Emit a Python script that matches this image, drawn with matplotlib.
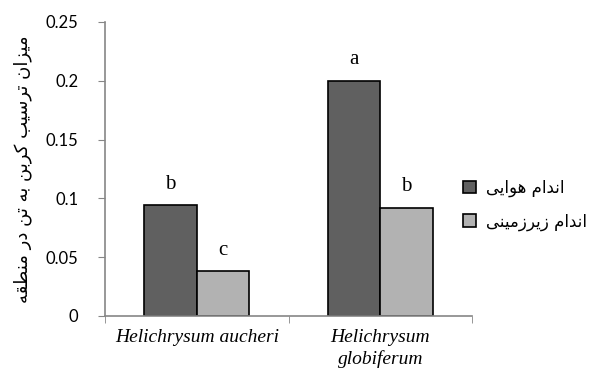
import numpy as np
import matplotlib.pyplot as plt
from matplotlib.ticker import FixedLocator

# data
species = ['Helichrysum aucheri', 'Helichrysum\nglobiferum']
aerial = [0.094, 0.200]        # اندام هوایی
underground = [0.038, 0.092]   # اندام زیرزمینی
aerial_letters = ['b', 'a']
underground_letters = ['c', 'b']
yticks = [0, 0.05, 0.1, 0.15, 0.2, 0.25]
ytick_labels = ['0', '0.05', '0.1', '0.15', '0.2', '0.25']

ylabel_fa = 'میزان ترسیب کربن به تن در منطقه'
legend_fa = ['اندام هوایی', 'اندام زیرزمینی']

# matplotlib has no arabic shaping, so pick presentation forms by hand
# (isolated, final, initial, medial)
forms = {
    'ا': ('\uFE8D', '\uFE8E', None, None),
    'ب': ('\uFE8F', '\uFE90', '\uFE91', '\uFE92'),
    'ت': ('\uFE95', '\uFE96', '\uFE97', '\uFE98'),
    'د': ('\uFEA9', '\uFEAA', None, None),
    'ر': ('\uFEAD', '\uFEAE', None, None),
    'ز': ('\uFEAF', '\uFEB0', None, None),
    'س': ('\uFEB1', '\uFEB2', '\uFEB3', '\uFEB4'),
    'ط': ('\uFEC1', '\uFEC2', '\uFEC3', '\uFEC4'),
    'ق': ('\uFED5', '\uFED6', '\uFED7', '\uFED8'),
    'م': ('\uFEE1', '\uFEE2', '\uFEE3', '\uFEE4'),
    'ن': ('\uFEE5', '\uFEE6', '\uFEE7', '\uFEE8'),
    'ه': ('\uFEE9', '\uFEEA', '\uFEEB', '\uFEEC'),
    'و': ('\uFEED', '\uFEEE', None, None),
    'ی': ('\uFBFC', '\uFBFD', '\uFBFE', '\uFBFF'),
    'ک': ('\uFB8E', '\uFB8F', '\uFB90', '\uFB91'),
}


def shape(s):
    out = []
    for i, ch in enumerate(s):
        if ch not in forms:
            out.append(ch)
            continue
        prev = s[i - 1] if i > 0 else ' '
        nxt = s[i + 1] if i < len(s) - 1 else ' '
        join_prev = prev in forms and forms[prev][2] is not None
        join_next = forms[ch][2] is not None and nxt in forms
        iso, fin, ini, med = forms[ch]
        if join_prev and join_next:
            out.append(med)
        elif join_prev:
            out.append(fin)
        elif join_next:
            out.append(ini)
        else:
            out.append(iso)
    return ''.join(out)[::-1]


plt.rcParams['font.family'] = ['Lato', 'DejaVu Sans']

fig = plt.figure(figsize=(6.01, 3.73), dpi=100)
ax = fig.add_axes([105 / 601, 1 - 316 / 373, 367 / 601, 294 / 373])

x = np.arange(len(species))
w = 0.285
b1 = ax.bar(x - w / 2, aerial, w, color='#606060', edgecolor='black', linewidth=1.2,
            label=shape(legend_fa[0]))
b2 = ax.bar(x + w / 2, underground, w, color='#b2b2b2', edgecolor='black', linewidth=1.2,
            label=shape(legend_fa[1]))

for xi, v, t in zip(x - w / 2, aerial, aerial_letters):
    ax.text(xi, v + 0.01, t, ha='center', va='bottom', fontsize=15, family='Liberation Serif')
for xi, v, t in zip(x + w / 2, underground, underground_letters):
    ax.text(xi, v + 0.01, t, ha='center', va='bottom', fontsize=15, family='Liberation Serif')

ax.set_xlim(-0.5, 1.5)
ax.set_ylim(0, 0.25)
ax.set_yticks(yticks)
ax.set_yticklabels(ytick_labels)
ax.set_xticks(x)
ax.set_xticklabels(species, fontsize=14, family='Liberation Serif', style='italic',
                   linespacing=1.3)
ax.xaxis.set_minor_locator(FixedLocator([-0.5, 0.5, 1.5]))
ax.tick_params(axis='x', which='major', length=0, pad=9)
ax.tick_params(axis='x', which='minor', length=5, color='#868686')
ax.tick_params(axis='y', length=5, color='#868686', labelsize=12, pad=14)

for s in ['top', 'right']:
    ax.spines[s].set_visible(False)
for s in ['left', 'bottom']:
    ax.spines[s].set_color('#868686')
    ax.spines[s].set_linewidth(1.2)

ax.set_ylabel(shape(ylabel_fa), family='DejaVu Sans', fontsize=13, labelpad=10)

fig.legend(handles=[b1, b2], loc='upper left', bbox_to_anchor=(448 / 601, 1 - 164 / 373),
           frameon=False, prop={'family': 'DejaVu Sans', 'size': 12},
           handlelength=0.75, handleheight=0.75, handletextpad=0.6, labelspacing=0.9)

fig.savefig('out.png', dpi=100)
